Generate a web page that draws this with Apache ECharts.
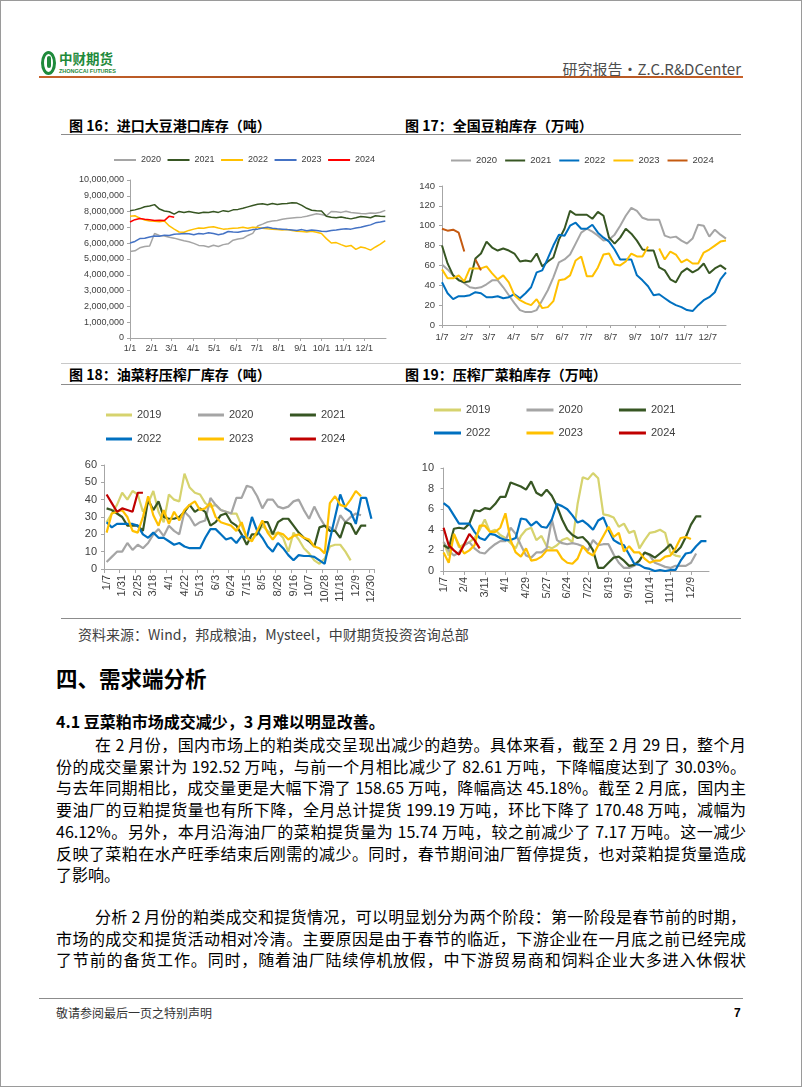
<!DOCTYPE html>
<html>
<head>
<meta charset="utf-8">
<script src="https://cdn.jsdelivr.net/npm/echarts@6/dist/echarts.min.js"></script>
<style>
html, body { margin: 0; padding: 0; background: #fff; }
.page { position: relative; width: 802px; height: 1087px; box-sizing: border-box; border: 1px solid #9a9a9a; overflow: hidden; font-family: "Noto Sans CJK SC", sans-serif; color: #000; }
.abs { position: absolute; white-space: nowrap; }
.hr { position: absolute; height: 0; border-top: 1px solid #8c8c8c; }
.ct { position: absolute; font-size: 14px; font-weight: 700; line-height: 18px; white-space: nowrap; }
.chart { position: absolute; }
.txt { position: absolute; left: 55px; width: 690px; font-size: 16px; line-height: 22px; white-space: nowrap; text-align: justify; text-align-last: justify; }
.txt.last { text-align-last: left; }
</style>
</head>
<body>
<div class="page">
  <!-- 页眉 -->
  <div class="abs" style="left:40px;top:50px;width:9px;height:18px;border:3px solid #1f8a3b;border-radius:50%;"></div>
  <div class="abs" style="left:45.5px;top:55px;width:4px;height:12px;background:#1f8a3b;border-radius:2px;"></div>
  <div class="abs" style="left:58px;top:49px;font-size:13.5px;font-weight:700;color:#1f8a3b;line-height:17px;">中财期货</div>
  <div class="abs" style="left:58px;top:67px;font-size:5.5px;font-weight:700;color:#1f8a3b;line-height:7px;font-family:'Liberation Sans',sans-serif;">ZHONGCAI FUTURES</div>
  <div class="abs" style="right:60px;top:59px;font-size:15px;line-height:18px;color:#4d4d4d;">研究报告•Z.C.R&amp;DCenter</div>
  <div class="abs" style="left:38px;top:75px;width:704px;height:2px;background:linear-gradient(90deg,#c8622a,#9b4a1c 50%,#c8622a);"></div>

  <!-- 图表标题 -->
  <div class="ct" style="left:68px;top:115px;">图 16：进口大豆港口库存（吨）</div>
  <div class="ct" style="left:404px;top:115px;">图 17：全国豆粕库存（万吨）</div>
  <div class="hr" style="left:60px;top:133px;width:680px;"></div>
  <div class="hr" style="left:60px;top:362px;width:680px;border-color:#c8c8c8;"></div>
  <div class="ct" style="left:68px;top:364px;">图 18：油菜籽压榨厂库存（吨）</div>
  <div class="ct" style="left:404px;top:364px;">图 19：压榨厂菜粕库存（万吨）</div>
  <div class="hr" style="left:60px;top:383px;width:680px;"></div>
  <div class="hr" style="left:60px;top:617px;width:680px;"></div>

  <div id="c16" class="chart" style="left:60px;top:140px;width:340px;height:220px;"></div>
  <div id="c17" class="chart" style="left:400px;top:140px;width:340px;height:220px;"></div>
  <div id="c18" class="chart" style="left:60px;top:385px;width:340px;height:232px;"></div>
  <div id="c19" class="chart" style="left:400px;top:385px;width:340px;height:232px;"></div>

  <div class="abs" style="left:77px;top:624px;font-size:14px;line-height:18px;color:#404040;">资料来源：Wind，邦成粮油，Mysteel，中财期货投资咨询总部</div>

  <div class="abs" style="left:55px;top:664px;font-size:21.5px;font-weight:700;line-height:26px;">四、需求端分析</div>
  <div class="abs" style="left:55px;top:709px;font-size:16px;font-weight:700;line-height:22px;">4.1 豆菜粕市场成交减少，3 月难以明显改善。</div>

  <div class="txt" style="top:732px;text-indent:39px;">在 2 月份，国内市场上的粕类成交呈现出减少的趋势。具体来看，截至 2 月 29 日，整个月</div>
  <div class="txt" style="top:753.7px;">份的成交量累计为 192.52 万吨，与前一个月相比减少了 82.61 万吨，下降幅度达到了 30.03%。</div>
  <div class="txt" style="top:775.4px;">与去年同期相比，成交量更是大幅下滑了 158.65 万吨，降幅高达 45.18%。截至 2 月底，国内主</div>
  <div class="txt" style="top:797px;">要油厂的豆粕提货量也有所下降，全月总计提货 199.19 万吨，环比下降了 170.48 万吨，减幅为</div>
  <div class="txt" style="top:818.8px;">46.12%。另外，本月沿海油厂的菜粕提货量为 15.74 万吨，较之前减少了 7.17 万吨。这一减少</div>
  <div class="txt" style="top:840.5px;">反映了菜粕在水产旺季结束后刚需的减少。同时，春节期间油厂暂停提货，也对菜粕提货量造成</div>
  <div class="txt last" style="top:862.2px;">了影响。</div>
  <div class="txt" style="top:904px;text-indent:39px;">分析 2 月份的粕类成交和提货情况，可以明显划分为两个阶段：第一阶段是春节前的时期，</div>
  <div class="txt" style="top:925.7px;">市场的成交和提货活动相对冷清。主要原因是由于春节的临近，下游企业在一月底之前已经完成</div>
  <div class="txt" style="top:947.4px;">了节前的备货工作。同时，随着油厂陆续停机放假，中下游贸易商和饲料企业大多进入休假状</div>

  <!-- 页脚 -->
  <div class="hr" style="left:38px;top:997px;width:704px;"></div>
  <div class="abs" style="left:55px;top:1004px;font-size:12px;line-height:16px;color:#333;">敬请参阅最后一页之特别声明</div>
  <div class="abs" style="left:733px;top:1004px;font-size:12px;font-weight:700;line-height:16px;font-family:'Liberation Sans',sans-serif;">7</div>
</div>

<script>
// 图16 进口大豆港口库存（吨），每7天一个点，x = 第几天
const portDays = 7;
const port2020 = [5480000,5520000,5710000,5790000,5820000,6610000,6490000,6450000,6380000,6320000,6240000,6160000,6090000,5990000,5860000,5840000,5760000,5870000,5790000,5910000,5960000,6190000,6260000,6310000,6490000,6620000,7090000,7210000,7340000,7410000,7440000,7510000,7560000,7590000,7620000,7650000,7710000,7790000,7860000,7810000,7740000,8010000,7990000,7950000,8020000,7940000,7910000,7880000,7860000,7910000,7890000,7960000,8080000];
const port2021 = [8050000,8110000,8190000,8310000,8360000,8440000,8160000,8040000,7990000,7840000,8010000,7940000,8010000,7950000,7890000,7960000,7940000,8010000,7950000,8060000,8000000,8110000,8140000,8210000,8300000,8390000,8460000,8490000,8440000,8510000,8450000,8490000,8510000,8560000,8540000,8390000,8210000,8090000,8060000,8040000,7710000,7640000,7610000,7660000,7590000,7540000,7610000,7690000,7660000,7610000,7740000,7710000,7690000];
const port2022 = [7700000,7740000,7590000,7460000,7410000,7390000,7360000,7400000,7090000,6890000,6710000,6690000,6810000,6890000,6960000,6940000,7010000,7040000,6960000,6890000,6910000,6940000,6960000,7010000,6940000,7010000,6990000,6950000,6910000,6890000,6860000,6840000,6860000,6810000,6760000,6740000,6710000,6760000,6690000,6610000,6290000,6010000,6040000,5910000,5790000,5860000,5610000,5760000,5690000,5560000,5760000,5940000,6160000];
const port2023 = [6010000,6110000,6290000,6310000,6390000,6460000,6440000,6510000,6490000,6560000,6590000,6610000,6600000,6540000,6610000,6590000,6660000,6610000,6540000,6600000,6740000,6710000,6690000,6760000,6790000,6860000,6890000,6960000,7010000,6940000,6910000,6890000,6860000,6840000,6810000,6860000,6790000,6840000,6810000,6760000,6740000,6810000,6840000,6890000,6910000,6890000,6960000,7010000,7090000,7160000,7290000,7340000,7410000];
const port2024 = [7340000,7490000,7560000,7510000,7490000,7440000,7460000,7430000,7710000,7640000];
const monthDays = [0,31,59,90,120,151,181,212,243,273,304,334];
const monthLabels16 = ['1/1','2/1','3/1','4/1','5/1','6/1','7/1','8/1','9/1','10/1','11/1','12/1'];

// 图17 全国豆粕库存（万吨），周度
const soyMeal2020 = [61,56,50,46,42,38,37,38,41,45,45,38,30,22,15,13,13,15,25,35,48,63,66,71,82,93,97,94,90,85,86,91,100,110,118,115,108,106,106,106,90,88,89,85,82,87,101,100,89,96,91,87];
const soyMeal2021 = [80,62,50,45,43,44,67,72,84,78,75,77,75,72,64,65,64,72,59,64,68,86,97,115,111,111,111,107,114,110,88,82,88,97,92,85,76,75,75,58,55,46,43,53,57,53,56,62,52,57,60,56];
const soyMeal2022 = [43,32,26,29,29,30,33,32,28,28,29,27,28,31,27,32,38,53,55,67,80,91,90,100,103,97,97,101,93,88,84,76,66,66,66,50,45,39,30,31,27,23,20,18,15,14,20,25,28,33,46,53];
const soyMeal2023 = [56,47,47,50,44,57,57,57,59,52,46,50,43,30,25,22,20,26,17,18,24,45,46,50,65,69,49,49,58,71,72,61,60,64,72,69,69,79,null,77,66,74,71,63,66,62,62,73,76,80,84,85];
const soyMeal2024 = [97,95,96,93,74,null,66,55];
// 月份标签所在的周（1/7 为第0周）
const weekLabelPos = [0,4.43,8.43,12.86,17.14,21.57,25.86,30.29,34.71,39,43.43,47.71];
const weekLabels = ['1/7','2/7','3/7','4/7','5/7','6/7','7/7','8/7','9/7','10/7','11/7','12/7'];

// 图18 油菜籽压榨厂库存
const seedDates = ['1/7','1/14','1/21','1/31','2/4','2/18','2/25','3/4','3/11','3/18','3/22','3/25','4/1','4/8','4/15','4/22','4/29','5/6','5/13','5/20','5/27','6/3','6/10','6/17','6/24','7/1','7/8','7/15','7/22','7/29','8/5','8/12','8/19','8/26','9/2','9/9','9/16','9/23','9/30','10/7','10/14','10/21','10/28','11/4','11/11','11/18','11/25','12/2','12/9','12/16','12/23','12/30'];
const seed2019 = [27,32,37,44,40,45,43,33,38,45,33,27,43,40,39,55,47,44,43,38,36,37,34,33,32,32,25,18,17,20,25,22,20,21,18,10,21,17,12,9,5,3,6,13,14,14,10,5,null,null,null,null];
const seed2020 = [4,7,10,10,15,11,14,12,15,20,23,19,25,22,20,33,30,25,27,28,41,37,34,33,32,41,41,48,47,42,35,40,40,36,35,36,39,40,34,29,36,30,25,24,22,31,27,30,32,31,null,null];
const seed2021 = [35,34,32,30,25,25,25,22,40,34,39,30,29,29,30,33,37,33,35,33,25,27,31,32,27,25,20,14,20,20,27,27,20,27,29,29,25,21,18,16,13,24,25,22,22,18,27,26,20,25,25,null];
const seed2022 = [27,24,26,26,26,26,25,20,18,21,18,18,16,14,15,13,12,12,12,18,23,23,20,17,18,15,19,18,30,22,18,13,10,15,12,8,5,8,7.5,7.5,7,5,3,17,30,43,35,33,26,41,41,29];
const seed2023 = [21,32,33,34,30,22,21,30,42,31,25,34,26,33,28,34,37,39,34,35,38,30,27,26,25,22,27,18,16,22,28,21,17,21,20,17,19,20,18,17,13,12,9,38,42,37,36,40,45,42,null,null];
const seed2024 = [43,38,33,35,34,33,44,44];

// 图19 压榨厂菜粕库存（万吨）
const rapeDates = ['1/7','1/14','1/21','1/28','2/4','2/18','2/25','3/4','3/11','3/15','3/18','3/25','4/1','4/8','4/15','4/22','4/29','5/6','5/13','5/20','5/27','6/3','6/10','6/17','6/24','7/1','7/8','7/15','7/22','7/29','8/5','8/12','8/19','8/26','9/2','9/9','9/16','9/23','9/30','10/7','10/14','10/21','10/28','11/4','11/11','11/18','11/25','12/2','12/9','12/16','12/23','12/30'];
const rapeLabelIdx = [0,4,8,12,16,20,24,28,32,36,40,44,48];
const rape2019 = [2.8,1.5,3.6,2.3,2.6,2.8,3.2,4.0,5.0,3.8,4.0,3.5,3.2,2.7,2.2,3.4,4.0,4.2,3.0,3.4,2.4,2.2,2.5,3.0,3.2,2.8,6.5,9.1,8.9,9.5,9.0,5.5,5.4,5.2,4.3,4.6,3.7,3.9,2.2,3.0,3.7,3.8,4.0,3.7,1.8,1.5,1.4,null,null,null,null,null];
const rape2020 = [2.8,2.0,1.5,1.8,2.5,2.8,2.2,1.8,1.7,2.2,2.6,2.9,2.9,4.2,3.6,2.5,1.5,1.3,1.8,1.8,2.2,5.0,3.0,2.7,2.6,2.7,2.6,2.4,2.0,3.0,2.5,2.6,2.6,1.6,0.8,0.3,0.3,0.5,1.0,1.8,1.5,0.8,0.6,0.4,0.3,0.5,0.5,0.5,0.8,1.7,null,null];
const rape2021 = [2.5,2.2,4.1,4.2,4.1,4.6,5.9,5.8,6.1,6.0,6.5,7.2,7.2,8.6,8.4,8.2,7.9,8.7,7.6,7.3,7.9,7.3,6.3,5.0,4.0,3.5,3.2,3.3,2.8,2.0,0.3,0.3,0.8,1.3,1.4,1.0,0.5,0.6,1.0,1.8,1.6,1.3,1.7,2.1,2.6,1.8,2.3,3.3,4.5,5.3,5.3,null];
const rape2022 = [6.6,6.2,5.4,4.6,4.6,4.6,3.8,3.2,3.0,3.6,3.5,3.2,3.0,3.0,3.2,5.1,5.0,4.4,4.8,4.3,4.2,5.0,6.5,6.3,6.0,5.4,4.7,4.9,4.5,4.0,4.9,5.2,4.0,3.0,2.7,2.5,1.6,0.7,0.6,0.3,0.2,0,0.1,0,0.1,0.1,1.0,1.7,1.8,2.4,2.9,2.9];
const rape2023 = [1.8,0.8,3.6,2.5,1.7,2.0,2.5,4.4,4.4,3.8,3.8,4.2,5.6,3.0,1.8,1.4,2.2,1.0,1.1,1.4,2.0,2.0,2.0,1.2,0.8,0.7,1.2,2.4,1.8,1.5,2.5,3.4,4.3,3.3,3.7,1.9,2.4,1.8,1.8,1.2,0.8,1.0,1.0,1.4,1.5,2.2,3.2,3.3,3.1,null,null,null];
const rape2024 = [4.2,2.5,2.0,1.6,2.6,3.6,3.0,2.2];

const AXIS = '#a6a6a6';
const LABEL = '#404040';
const NUM_FONT = '"Liberation Sans", Arial, sans-serif';

function line(name, data, color, width) {
  return {
    name, type: 'line', data, symbol: 'none', showSymbol: false,
    lineStyle: { color, width }, itemStyle: { color },
  };
}
function label(size, extra) {
  return Object.assign({ fontSize: size, color: LABEL, fontFamily: NUM_FONT }, extra || {});
}
function legend(left, top, names, w, h, gap, size) {
  return {
    left, top, icon: 'rect', itemWidth: w, itemHeight: h, itemGap: gap,
    textStyle: { fontSize: size, color: LABEL, fontFamily: NUM_FONT }, data: names,
  };
}
const idx = arr => arr.map((v, i) => [i, v]);

// ---- 图16
const c16 = echarts.init(document.getElementById('c16'));
c16.setOption({
  animation: false,
  legend: legend(48, 9.5, ['2020','2021','2022','2023','2024'], 22, 2, 6.5, 9),
  grid: { left: 69, top: 39, width: 256, height: 158 },
  xAxis: {
    type: 'value', min: 0, max: 365, splitLine: { show: false },
    axisLine: { lineStyle: { color: AXIS } },
    axisTick: { show: true, length: 3, customValues: monthDays, lineStyle: { color: AXIS } },
    axisLabel: label(9, { margin: 6, customValues: monthDays, formatter: v => monthLabels16[monthDays.indexOf(v)] }),
  },
  yAxis: {
    type: 'value', min: 0, max: 10000000, interval: 1000000, splitLine: { show: false },
    axisLine: { show: true, lineStyle: { color: AXIS } },
    axisTick: { show: true, length: 3, lineStyle: { color: AXIS } },
    axisLabel: label(9, { margin: 6, formatter: v => v.toLocaleString('en-US') }),
  },
  series: [
    line('2020', port2020.map((v, i) => [i * portDays, v]), '#a5a5a5', 1.5),
    line('2021', port2021.map((v, i) => [i * portDays, v]), '#375623', 1.5),
    line('2022', port2022.map((v, i) => [i * portDays, v]), '#ffc000', 1.5),
    line('2023', port2023.map((v, i) => [i * portDays, v]), '#4472c4', 1.5),
    line('2024', port2024.map((v, i) => [i * portDays, v]), '#ff0000', 1.5),
  ],
});

// ---- 图17
const c17 = echarts.init(document.getElementById('c17'));
c17.setOption({
  animation: false,
  legend: legend(45, 9.5, ['2020','2021','2022','2023','2024'], 20, 2, 8, 9.5),
  grid: { left: 41, top: 45, width: 284, height: 139 },
  xAxis: {
    type: 'value', min: 0, max: 51, splitLine: { show: false },
    axisLine: { lineStyle: { color: AXIS } },
    axisTick: { show: true, length: 3, customValues: weekLabelPos, lineStyle: { color: AXIS } },
    axisLabel: label(9.5, { margin: 7, customValues: weekLabelPos, formatter: v => weekLabels[weekLabelPos.indexOf(v)] }),
  },
  yAxis: {
    type: 'value', min: 0, max: 140, interval: 20, splitLine: { show: false },
    axisLine: { show: true, lineStyle: { color: AXIS } },
    axisTick: { show: true, length: 3, lineStyle: { color: AXIS } },
    axisLabel: label(9.5, { margin: 7 }),
  },
  series: [
    line('2020', idx(soyMeal2020), '#a5a5a5', 2),
    line('2021', idx(soyMeal2021), '#375623', 2),
    line('2022', idx(soyMeal2022), '#0070c0', 2),
    line('2023', idx(soyMeal2023), '#ffc000', 2),
    line('2024', idx(soyMeal2024), '#c55a11', 2),
  ],
});

function valAxis(max, interval) {
  return {
    type: 'value', min: 0, max, interval, splitLine: { show: false },
    axisLine: { show: true, lineStyle: { color: AXIS } },
    axisTick: { show: true, length: 3, lineStyle: { color: AXIS } },
    axisLabel: label(11, { margin: 7 }),
  };
}
const YEAR_COLORS = { '2019': '#d6d36e', '2020': '#a5a5a5', '2021': '#375623', '2022': '#0070c0', '2023': '#ffc000', '2024': '#c00000' };

// ---- 图18
const c18 = echarts.init(document.getElementById('c18'));
c18.setOption({
  animation: false,
  legend: [
    legend(40, 18.5, ['2019','2020','2021'], 26, 3, 36.5, 11),
    legend(40, 42.5, ['2022','2023','2024'], 26, 3, 36.5, 11),
  ],
  grid: { left: 43, top: 79, width: 270, height: 104 },
  xAxis: {
    type: 'category', data: seedDates, boundaryGap: true,
    axisLine: { lineStyle: { color: AXIS } },
    axisTick: { show: true, length: 4, interval: 2, lineStyle: { color: AXIS } },
    axisLabel: label(11, { interval: 2, rotate: 90, margin: 6 }),
  },
  yAxis: valAxis(60, 10),
  series: [
    line('2019', seed2019, YEAR_COLORS['2019'], 2.2),
    line('2020', seed2020, YEAR_COLORS['2020'], 2.2),
    line('2021', seed2021, YEAR_COLORS['2021'], 2.2),
    line('2022', seed2022, YEAR_COLORS['2022'], 2.2),
    line('2023', seed2023, YEAR_COLORS['2023'], 2.2),
    line('2024', seed2024, YEAR_COLORS['2024'], 2.2),
  ],
});

// ---- 图19（用数值轴放置日期标签，避免分类轴漏标）
const c19 = echarts.init(document.getElementById('c19'));
c19.setOption({
  animation: false,
  legend: [
    legend(28, 13.5, ['2019','2020','2021'], 27, 3, 36, 11),
    legend(28, 36.5, ['2022','2023','2024'], 27, 3, 36, 11),
  ],
  grid: { left: 40, top: 82, width: 268, height: 103 },
  xAxis: {
    type: 'value', min: -0.5, max: 51.5, splitLine: { show: false },
    axisLine: { lineStyle: { color: AXIS } },
    axisTick: { show: true, length: 4, customValues: rapeLabelIdx, lineStyle: { color: AXIS } },
    axisLabel: label(11, { rotate: 90, margin: 6, customValues: rapeLabelIdx, formatter: v => rapeDates[v] }),
  },
  yAxis: valAxis(10, 2),
  series: [
    line('2019', idx(rape2019), YEAR_COLORS['2019'], 2.2),
    line('2020', idx(rape2020), YEAR_COLORS['2020'], 2.2),
    line('2021', idx(rape2021), YEAR_COLORS['2021'], 2.2),
    line('2022', idx(rape2022), YEAR_COLORS['2022'], 2.2),
    line('2023', idx(rape2023), YEAR_COLORS['2023'], 2.2),
    line('2024', idx(rape2024), YEAR_COLORS['2024'], 2.2),
  ],
});
</script>
</body>
</html>
